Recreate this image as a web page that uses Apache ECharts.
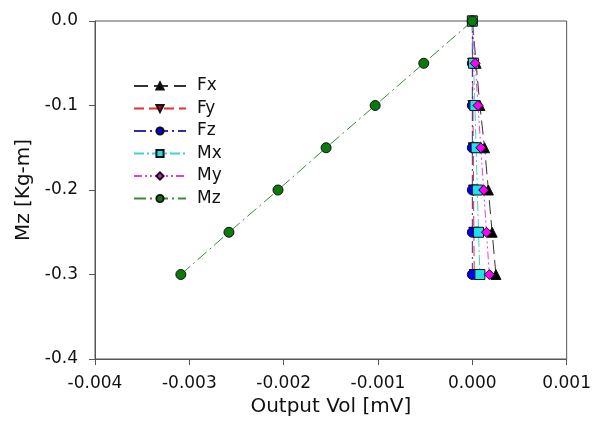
<!DOCTYPE html>
<html>
<head>
<meta charset="utf-8">
<script src="https://cdn.jsdelivr.net/npm/echarts@6/dist/echarts.min.js"></script>
<style>
  html, body { margin: 0; padding: 0; background: #fff; }
  #chart { width: 594px; height: 437px; }
</style>
</head>
<body>
<div id="chart"></div>
<script>
// Applied moment levels (y axis) and output voltage of each channel (x axis)
var mzLoad = [0, -0.05, -0.1, -0.15, -0.2, -0.25, -0.3];
var fxOut = [0, 0.00004, 0.00008, 0.00013, 0.00017, 0.00021, 0.00025];
var fyOut = [0, 0.000003, 0.000006, 0.00001, 0.000013, 0.000016, 0.00002];
var fzOut = [0, 0, 0, 0, 0, 0, 0];
var mxOut = [0, 0.000013, 0.000027, 0.00004, 0.000053, 0.000066, 0.00008];
var myOut = [0, 0.00003, 0.00006, 0.00009, 0.00012, 0.00015, 0.00018];
var mzOut = [0, -0.000515, -0.00103, -0.00155, -0.00206, -0.00258, -0.00309];

var FONT = '"DejaVu Sans", "Liberation Sans", Arial, sans-serif';

function pairs(xs) {
  return xs.map(function (x, i) { return [x, mzLoad[i]]; });
}

function makeSeries(name, xs, symbol, rotate, fill, lineColor, dash) {
  return {
    name: name,
    type: 'line',
    data: pairs(xs),
    symbol: symbol,
    symbolRotate: rotate,
    symbolSize: 10,
    showAllSymbol: true,
    itemStyle: { color: fill, borderColor: '#111', borderWidth: 1 },
    lineStyle: { color: lineColor, width: 1, type: dash },
    emphasis: { disabled: true },
    animation: false
  };
}

var chart = echarts.init(document.getElementById('chart'), null, { renderer: 'canvas' });
chart.setOption({
  backgroundColor: '#fff',
  animation: false,
  grid: {
    left: 95, right: 26, top: 21, bottom: 78,
    show: true, borderColor: '#555', borderWidth: 1
  },
  legend: {
    orient: 'vertical',
    left: 128, top: 72,
    itemWidth: 52, itemHeight: 9, itemGap: 4.5,
    textStyle: {
      fontFamily: FONT, fontSize: 17, lineHeight: 18, color: '#111',
      padding: [0, 0, 0, 6]
    },
    data: ['Fx', 'Fy', 'Fz', 'Mx', 'My', 'Mz']
  },
  xAxis: {
    type: 'value',
    min: -0.004, max: 0.001, interval: 0.001,
    name: 'Output Vol [mV]',
    nameLocation: 'middle', nameGap: 38,
    nameTextStyle: { fontFamily: FONT, fontSize: 20, color: '#111' },
    axisLine: { show: true, onZero: false, lineStyle: { color: '#555' } },
    axisTick: { show: true, inside: false, length: 6, lineStyle: { color: '#555' } },
    axisLabel: {
      fontFamily: FONT, fontSize: 17, color: '#111', margin: 16,
      formatter: function (v) { return v.toFixed(3); }
    },
    splitLine: { show: false }
  },
  yAxis: {
    type: 'value',
    min: -0.4, max: 0, interval: 0.1,
    name: 'Mz [Kg-m]',
    nameLocation: 'middle', nameGap: 60,
    nameTextStyle: { fontFamily: FONT, fontSize: 20, color: '#111' },
    axisLine: { show: true, onZero: false, lineStyle: { color: '#555' } },
    axisTick: { show: true, inside: false, length: 6, lineStyle: { color: '#555' } },
    axisLabel: {
      fontFamily: FONT, fontSize: 17, color: '#111', margin: 17,
      formatter: function (v) { return v.toFixed(1); }
    },
    splitLine: { show: false }
  },
  series: [
    makeSeries('Fx', fxOut, 'triangle', 0, '#000', '#333', [14, 6]),
    makeSeries('Fy', fyOut, 'triangle', 180, '#d00000', '#e03030', [10, 5]),
    makeSeries('Fz', fzOut, 'circle', 0, '#0000ee', '#3030a0', [12, 4, 2, 4]),
    makeSeries('Mx', mxOut, 'rect', 0, '#22e0e8', '#40d0d8', [10, 3, 2, 3]),
    makeSeries('My', myOut, 'diamond', 0, '#ff00ff', '#e040e0', [8, 3, 2, 3, 2, 3]),
    makeSeries('Mz', mzOut, 'circle', 0, '#0a7a0a', '#3a8a3a', [12, 4, 2, 4])
  ]
});
</script>
</body>
</html>
